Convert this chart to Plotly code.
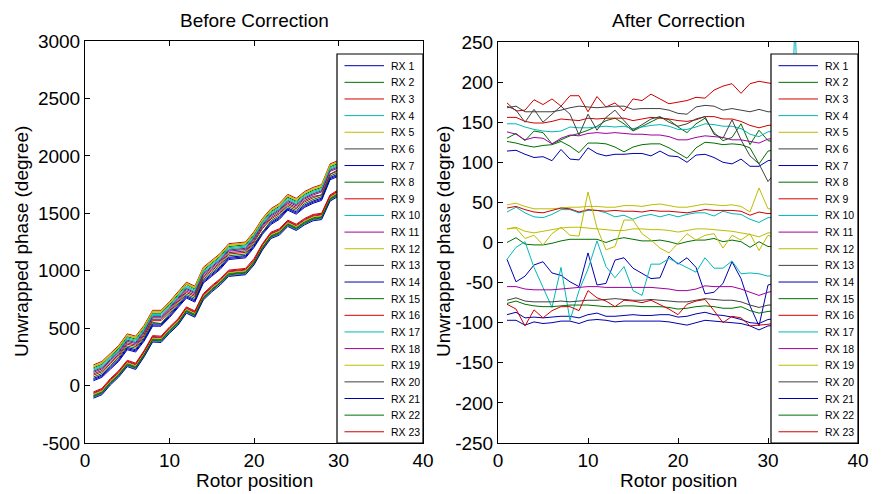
import plotly.graph_objects as go

# ---------------- data ----------------
rotor_ticks = [0, 10, 20, 30, 40]
before_ticks = [-500, 0, 500, 1000, 1500, 2000, 2500, 3000]
after_ticks = [-250, -200, -150, -100, -50, 0, 50, 100, 150, 200, 250]
rx_names = ["RX %d" % i for i in range(1, 24)]

# Unwrapped phase before correction (degree), rotor positions 1..31
before_rx1 = [62,92,162,232,332,312,407,537,537,612,697,782,747,912,972,1032,1117,1122,1132,1222,1337,1422,1467,1547,1512,1572,1607,1632,1812,1842,1872]
before_rx2 = [155,185,255,325,425,405,500,630,630,705,790,880,840,1005,1065,1125,1210,1215,1225,1315,1430,1515,1560,1640,1605,1665,1700,1725,1905,1935,1965]
before_rx3 = [180,210,280,350,450,430,525,655,655,730,815,900,865,1030,1090,1150,1235,1240,1250,1340,1455,1540,1585,1665,1630,1690,1725,1750,1930,1960,1990]
before_rx4 = [135,165,235,305,405,385,480,610,610,685,770,855,820,985,1045,1105,1190,1195,1205,1295,1410,1495,1540,1620,1585,1645,1680,1705,1885,1915,1945]
before_rx5 = [165,195,265,335,435,415,510,640,640,715,800,885,850,1015,1075,1135,1220,1225,1235,1325,1440,1525,1570,1650,1615,1675,1710,1735,1915,1945,1975]
before_rx6 = [125,155,225,295,395,375,470,600,600,675,760,845,810,975,1035,1095,1180,1185,1195,1285,1400,1485,1530,1610,1575,1635,1670,1695,1875,1905,1935]
before_rx7 = [52,82,152,222,322,302,397,527,527,602,687,772,737,902,962,1022,1107,1112,1122,1212,1327,1412,1457,1537,1502,1562,1597,1622,1802,1832,1862]
before_rx8 = [75,105,175,245,345,325,420,550,540,625,710,795,760,925,985,1045,1130,1135,1145,1235,1340,1435,1480,1560,1525,1585,1620,1645,1825,1855,1885]
before_rx9 = [90,120,190,260,360,340,435,565,565,640,725,810,775,940,1000,1060,1145,1150,1160,1250,1365,1450,1495,1575,1540,1600,1635,1660,1840,1870,1900]
before_rx10 = [145,175,245,315,415,395,490,620,620,695,780,865,830,995,1055,1115,1200,1205,1215,1305,1420,1505,1550,1630,1595,1655,1690,1715,1895,1925,1955]
before_rx11 = [115,145,215,285,385,365,460,590,590,665,750,835,800,965,1025,1085,1170,1175,1185,1275,1390,1475,1520,1600,1565,1625,1660,1685,1865,1895,1925]
before_rx12 = [172,202,272,342,442,422,517,647,647,722,807,892,857,1022,1082,1142,1227,1232,1242,1332,1447,1532,1577,1657,1622,1682,1717,1742,1922,1952,1982]
before_rx13 = [102,132,202,272,372,352,447,577,577,652,737,822,787,952,1012,1072,1157,1162,1172,1262,1377,1462,1507,1587,1552,1612,1647,1660,1840,1882,1912]
before_rx14 = [42,72,142,212,312,292,387,517,517,592,677,762,727,892,952,1012,1097,1102,1112,1202,1317,1402,1447,1527,1492,1552,1587,1612,1792,1822,1852]
before_rx15 = [-83,-53,32,102,192,167,277,407,402,482,552,657,622,772,842,902,977,982,992,1077,1207,1307,1337,1412,1377,1427,1462,1472,1632,1677,1707]
before_rx16 = [-55,-25,60,130,220,195,305,435,430,510,580,685,650,800,870,930,1005,1010,1020,1105,1235,1335,1365,1440,1405,1455,1490,1500,1660,1705,1735]
before_rx17 = [-102,-72,13,83,173,148,258,380,383,463,533,638,603,753,823,890,958,963,973,1058,1188,1288,1318,1393,1358,1408,1443,1453,1613,1658,1688]
before_rx18 = [-70,-40,45,115,205,180,290,420,415,495,565,670,635,785,855,915,990,995,1005,1090,1220,1320,1350,1425,1390,1440,1475,1485,1645,1690,1720]
before_rx19 = [-77,-47,38,108,198,173,283,413,408,488,558,663,628,778,848,908,983,988,998,1083,1213,1313,1343,1418,1383,1433,1468,1478,1638,1683,1713]
before_rx20 = [-96,-66,19,89,179,154,264,394,389,469,539,644,609,759,829,889,964,969,979,1064,1194,1294,1324,1399,1364,1414,1449,1459,1619,1664,1694]
before_rx21 = [-110,-80,5,75,165,140,250,380,375,455,525,630,595,745,815,875,950,955,965,1050,1180,1280,1310,1385,1350,1400,1435,1445,1605,1650,1680]
before_rx22 = [-90,-60,25,95,185,160,270,400,395,475,545,650,615,765,835,895,970,975,985,1070,1200,1300,1330,1405,1370,1420,1455,1465,1625,1670,1700]
before_rx23 = [-63,-33,52,122,212,187,297,427,422,502,572,677,642,792,862,922,997,1002,1012,1090,1227,1327,1357,1432,1397,1447,1482,1492,1652,1697,1727]

# Unwrapped phase after correction (degree)
after_rx1 = [114,115,110,106,107,102,116,104,103,118,111,108,110,110,111,111,108,114,108,107,100,109,110,106,100,98,104,95,95,102,104]
after_rx2 = [130,136,127,139,137,123,128,133,136,140,145,152,155,148,139,145,150,156,153,144,137,148,155,137,127,131,148,122,140,127,125]
after_rx3 = [174,164,165,178,172,179,170,183,183,163,182,169,174,164,179,177,185,179,173,175,177,181,180,190,195,198,186,198,201,199,197]
after_rx4 = [148,148,144,141,139,138,139,144,143,143,144,145,144,145,142,144,146,147,145,141,141,144,148,147,145,145,142,135,132,138,139]
after_rx5 = [47,49,45,42,42,42,43,44,44,45,45,44,44,46,46,45,47,48,46,44,44,46,48,47,46,47,45,38,68,42,42]
after_rx6 = [168,170,163,163,163,163,165,168,170,169,168,169,170,170,166,167,167,167,165,161,160,169,171,170,165,167,165,163,166,163,163]
after_rx7 = [-21,-49,-42,-28,-24,-38,-41,-49,-55,-13,-53,-51,-22,-19,-32,-39,-45,-44,-17,-27,-19,-31,-64,-62,-51,-24,-45,-79,-104,-53,-50]
after_rx8 = [126,124,121,119,121,122,126,120,112,124,124,123,119,113,119,122,123,123,118,111,105,118,125,124,122,123,122,118,98,114,116]
after_rx9 = [156,156,151,149,149,151,154,153,152,155,154,155,155,155,152,154,156,155,154,152,151,153,157,157,154,154,151,146,143,146,147]
after_rx10 = [38,44,37,32,31,35,41,41,37,40,40,37,32,34,29,33,35,32,35,32,35,37,37,33,39,36,35,29,25,31,31]
after_rx11 = [138,135,128,131,130,123,130,134,133,136,137,136,137,136,135,135,134,134,132,128,128,131,133,132,131,128,128,126,124,129,130]
after_rx12 = [17,19,14,12,14,16,18,19,19,18,17,16,15,15,17,17,16,16,15,13,15,17,17,16,15,14,12,10,7,12,12]
after_rx13 = [170,165,150,166,150,160,170,160,134,160,140,156,165,152,140,147,154,157,150,145,148,154,157,135,130,153,128,108,98,76,90]
after_rx14 = [-90,-87,-94,-93,-94,-93,-92,-92,-94,-90,-88,-92,-92,-91,-90,-91,-91,-90,-90,-93,-92,-89,-87,-90,-91,-93,-96,-100,-101,-96,-95]
after_rx15 = [0,6,-2,-3,-3,-1,2,4,4,4,4,0,4,6,4,2,2,3,1,-2,1,3,3,5,1,3,1,-6,1,-5,-5]
after_rx16 = [43,45,41,38,37,40,43,42,38,41,40,39,40,39,39,38,40,39,39,38,37,39,41,40,40,40,39,34,38,36,37]
after_rx17 = [-21,-6,1,-31,-56,-81,-31,-97,-60,-33,2,-30,-44,-30,-60,-66,-27,-27,-20,-26,-32,-37,-19,-32,-32,-23,-39,-38,-39,-42,-40,-40,275,-40]
after_rx18 = [-55,-55,-58,-59,-59,-59,-58,-57,-56,-55,-55,-56,-56,-56,-56,-56,-56,-57,-58,-60,-60,-58,-54,-55,-55,-55,-58,-62,-66,-62,-60]
after_rx19 = [17,18,5,9,-3,11,19,9,8,63,18,-9,-5,28,28,11,3,-7,-13,-1,11,3,9,11,-7,9,3,11,-10,9,5]
after_rx20 = [-72,-69,-73,-74,-74,-74,-73,-74,-73,-72,-72,-71,-70,-71,-72,-72,-71,-72,-73,-74,-74,-72,-70,-71,-72,-72,-74,-78,-81,-78,-78]
after_rx21 = [-97,-97,-103,-99,-101,-100,-98,-98,-101,-97,-96,-97,-99,-98,-98,-98,-98,-98,-99,-101,-103,-100,-97,-98,-99,-100,-101,-104,-109,-104,-103]
after_rx22 = [-76,-73,-77,-79,-80,-80,-79,-78,-78,-78,-79,-80,-80,-79,-79,-80,-80,-80,-81,-83,-82,-80,-79,-80,-82,-82,-80,-85,-88,-86,-85]
after_rx23 = [-77,-83,-104,-84,-94,-85,-80,-80,-85,-60,-69,-73,-80,-72,-73,-75,-72,-77,-83,-90,-77,-73,-71,-85,-100,-92,-94,-104,-103,-102,-100]

before_series = [before_rx1, before_rx2, before_rx3, before_rx4, before_rx5, before_rx6,
                 before_rx7, before_rx8, before_rx9, before_rx10, before_rx11, before_rx12,
                 before_rx13, before_rx14, before_rx15, before_rx16, before_rx17, before_rx18,
                 before_rx19, before_rx20, before_rx21, before_rx22, before_rx23]
after_series = [after_rx1, after_rx2, after_rx3, after_rx4, after_rx5, after_rx6,
                after_rx7, after_rx8, after_rx9, after_rx10, after_rx11, after_rx12,
                after_rx13, after_rx14, after_rx15, after_rx16, after_rx17, after_rx18,
                after_rx19, after_rx20, after_rx21, after_rx22, after_rx23]

# ---------------- styles ----------------
B, G, R, C, M, Y, K = "#0000b0", "#007000", "#d00000", "#00b8b8", "#a000a0", "#bdbd00", "#404040"
rx_colors = [B, G, R, C, Y, K, B, G, R, C, M, Y, K, B, G, R, C, M, Y, K, B, G, R]
FONT = "Liberation Sans, Arial, Helvetica, sans-serif"

W, H = 885, 494
def px(x):
    return x / W
def py(y):
    return 1 - y / H

fig = go.Figure()
for i in range(23):
    fig.add_trace(go.Scatter(x=list(range(1, len(before_series[i]) + 1)), y=before_series[i],
                             mode="lines", line=dict(color=rx_colors[i], width=1),
                             name=rx_names[i], xaxis="x", yaxis="y", showlegend=False,
                             hoverinfo="skip"))
for i in range(23):
    fig.add_trace(go.Scatter(x=list(range(1, len(after_series[i]) + 1)), y=after_series[i],
                             mode="lines", line=dict(color=rx_colors[i], width=1),
                             name=rx_names[i], xaxis="x2", yaxis="y2", showlegend=False,
                             hoverinfo="skip"))

axis_common = dict(showline=True, linecolor="black", linewidth=1, mirror="ticks",
                   ticks="inside", ticklen=5, tickcolor="black", tickwidth=1,
                   showgrid=False, zeroline=False, automargin=False,
                   tickfont=dict(family=FONT, size=19, color="black"))

fig.update_layout(
    template="none",
    width=W, height=H, margin=dict(l=0, r=0, t=0, b=0, pad=0, autoexpand=False),
    paper_bgcolor="white", plot_bgcolor="white", showlegend=False,
    xaxis=dict(domain=[px(85), px(423)], range=[0, 40], anchor="y",
               tickvals=rotor_ticks, ticktext=[str(v) for v in rotor_ticks], **axis_common),
    yaxis=dict(domain=[py(443), py(41)], range=[-500, 3000], anchor="x",
               tickvals=before_ticks, ticktext=[str(v) for v in before_ticks], **axis_common),
    xaxis2=dict(domain=[px(498), px(858)], range=[0, 40], anchor="y2",
                tickvals=rotor_ticks, ticktext=[str(v) for v in rotor_ticks], **axis_common),
    yaxis2=dict(domain=[py(443), py(42)], range=[-250, 250], anchor="x2",
                tickvals=after_ticks, ticktext=[str(v) for v in after_ticks], **axis_common),
)

annotations = []
shapes = []

def text(x, y, s, size=19, angle=0, xanchor="center"):
    annotations.append(dict(x=px(x), y=py(y), xref="paper", yref="paper", text=s,
                            showarrow=False, textangle=angle, xanchor=xanchor,
                            yanchor="middle", font=dict(family=FONT, size=size, color="black")))

# titles and axis labels
text(254, 20, "Before Correction", size=19)
text(678, 20, "After Correction", size=19)
text(254, 480, "Rotor position")
text(678, 480, "Rotor position")
text(21, 242, "Unwrapped phase (degree)", angle=-90)
text(443, 242, "Unwrapped phase (degree)", angle=-90)

# legends (drawn by hand so that the 23 rows fit like the original)
for (bx0, bx1) in [(337, 423), (771, 858)]:
    shapes.append(dict(type="rect", xref="paper", yref="paper", x0=px(bx0), x1=px(bx1),
                       y0=py(443), y1=py(54), fillcolor="white",
                       line=dict(color="black", width=1.2), layer="above"))
    for i in range(23):
        yc = 65.7 + 16.64 * i
        shapes.append(dict(type="line", xref="paper", yref="paper",
                           x0=px(bx0 + 7.5), x1=px(bx0 + 47), y0=py(yc), y1=py(yc),
                           line=dict(color=rx_colors[i], width=1), layer="above"))
        text(bx0 + 51.5, yc, rx_names[i], size=10.5, xanchor="left")

fig.update_layout(annotations=annotations, shapes=shapes)
fig.write_html("out.html", config={"displayModeBar": False},
               post_script="document.body.style.margin='0';document.body.style.padding='0';")
